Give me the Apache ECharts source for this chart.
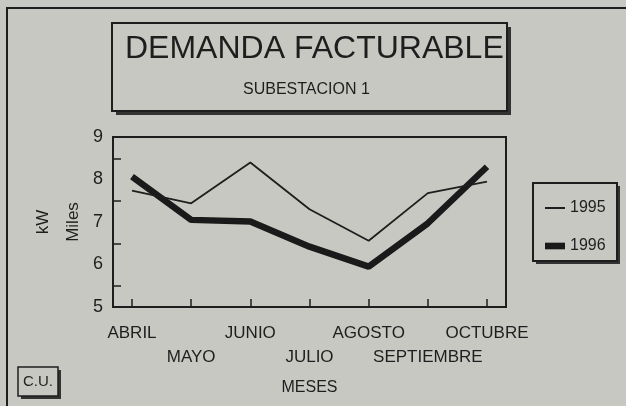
<!DOCTYPE html>
<html>
<head>
<meta charset="utf-8">
<script src="https://cdn.jsdelivr.net/npm/echarts@6/dist/echarts.min.js"></script>
<style>
  body { margin: 0; background: #c8c8c3; }
  #main { width: 626px; height: 406px; }
</style>
</head>
<body>
<div id="main"></div>
<script>
// datos (miles de kW)
let meses = ['ABRIL', 'MAYO', 'JUNIO', 'JULIO', 'AGOSTO', 'SEPTIEMBRE', 'OCTUBRE'];
let datos1995 = [7.74, 7.44, 8.40, 7.30, 6.56, 7.68, 7.95];
let datos1996 = [8.07, 7.05, 7.01, 6.42, 5.95, 6.97, 8.30];
let series_nombres = ['1995', '1996'];

let ink = '#1e1e1e';
let fondo = '#c8c8c3';
let fuente = 'Liberation Sans, Arial, sans-serif';

let chart = echarts.init(document.getElementById('main'));

let option = {
  backgroundColor: fondo,
  animation: false,
  textStyle: { fontFamily: fuente, color: ink },
  title: [
    {
      text: 'DEMANDA FACTURABLE',
      left: 125,
      top: 33,
      padding: 0,
      textStyle: { fontSize: 32, fontWeight: 'normal', color: ink, fontFamily: fuente }
    },
    {
      text: 'SUBESTACION 1',
      left: 243,
      top: 82,
      padding: 0,
      textStyle: { fontSize: 16, fontWeight: 'normal', color: ink, fontFamily: fuente }
    }
  ],
  legend: {
    orient: 'vertical',
    left: 545,
    top: 200,
    padding: 0,
    itemWidth: 20,
    itemHeight: 14,
    itemGap: 22,
    textStyle: { fontSize: 16, color: ink, fontFamily: fuente },
    data: [
      { name: series_nombres[0], icon: 'path://M0,0H20V2H0Z' },
      { name: series_nombres[1], icon: 'path://M0,0H18V6H0Z' }
    ]
  },
  grid: {
    left: 132,
    right: 139,
    top: 137,
    bottom: 99
  },
  xAxis: {
    type: 'category',
    data: meses,
    boundaryGap: false,
    name: 'MESES',
    nameLocation: 'middle',
    nameGap: 73,
    nameTextStyle: { fontSize: 16, color: ink, fontFamily: fuente },
    axisLine: { show: false },
    axisTick: { show: true, inside: true, length: 8, lineStyle: { color: ink, width: 1.5 } },
    axisLabel: {
      interval: 0,
      margin: 14,
      fontSize: 17,
      lineHeight: 24,
      color: ink,
      formatter: function (v, i) {
        return i % 2 ? '\n' + v : v;
      }
    }
  },
  yAxis: {
    type: 'value',
    min: 5,
    max: 9,
    interval: 1,
    offset: 19,
    name: 'kW\nMiles',
    nameLocation: 'middle',
    nameRotate: 90,
    nameGap: 25,
    nameMoveOverlap: false,
    nameTextStyle: { fontSize: 17, lineHeight: 30, color: ink, fontFamily: fuente },
    axisLine: { show: false },
    axisTick: { show: false, inside: true },
    minorTick: { show: true, splitNumber: 2, length: 8, lineStyle: { color: ink, width: 1.5 } },
    splitLine: { show: false },
    axisLabel: { margin: 10, fontSize: 18, color: ink }
  },
  graphic: [
    // marco exterior
    { type: 'rect', shape: { x: 7, y: 8, width: 800, height: 600 }, style: { fill: 'none', stroke: ink, lineWidth: 2 } },
    // caja del titulo
    { type: 'rect', shape: { x: 116, y: 27, width: 395, height: 88 }, style: { fill: '#333' } },
    { type: 'rect', shape: { x: 112, y: 23, width: 395, height: 88 }, style: { fill: fondo, stroke: ink, lineWidth: 2 } },
    // marco del area de trazado
    { type: 'rect', shape: { x: 113, y: 137, width: 393, height: 170 }, style: { fill: 'none', stroke: ink, lineWidth: 2 } },
    // caja de la leyenda
    { type: 'rect', shape: { x: 536, y: 186, width: 84, height: 78 }, style: { fill: '#333' } },
    { type: 'rect', shape: { x: 533, y: 183, width: 84, height: 78 }, style: { fill: fondo, stroke: ink, lineWidth: 2 } },
    // C.U.
    { type: 'rect', shape: { x: 21, y: 370, width: 40, height: 29 }, style: { fill: '#333' } },
    { type: 'rect', shape: { x: 18, y: 367, width: 40, height: 29 }, style: { fill: fondo, stroke: ink, lineWidth: 1.5 } },
    { type: 'text', x: 38, y: 382, style: { text: 'C.U.', fill: ink, font: '15px ' + fuente, textAlign: 'center', textVerticalAlign: 'middle' } }
  ],
  series: [
    {
      name: series_nombres[0],
      type: 'line',
      data: datos1995,
      symbol: 'none',
      z: 3,
      lineStyle: { color: ink, width: 1.8 },
      itemStyle: { color: ink }
    },
    {
      name: series_nombres[1],
      type: 'line',
      data: datos1996,
      symbol: 'none',
      z: 2,
      lineStyle: { color: '#1a1a1a', width: 6.5 },
      itemStyle: { color: '#1a1a1a' }
    }
  ]
};

chart.setOption(option);
</script>
</body>
</html>
